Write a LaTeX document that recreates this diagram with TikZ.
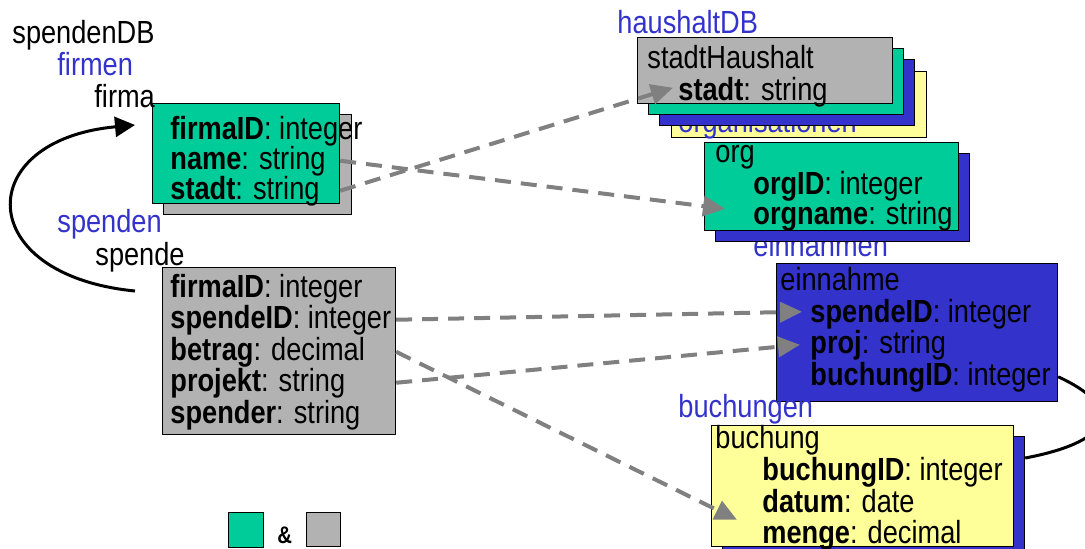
\documentclass[tikz,border=0pt]{standalone}
\usepackage{fontspec}
\setmainfont[FakeStretch=0.85]{Liberation Sans}
\usetikzlibrary{arrows.meta,calc}
\definecolor{tblgreen}{HTML}{00CC99}
\definecolor{tblgray}{HTML}{B2B2B2}
\definecolor{tblblue}{HTML}{3333CC}
\definecolor{tblyellow}{HTML}{FFFF99}
\definecolor{linkgray}{HTML}{808080}

\begin{document}
\begin{tikzpicture}[x=0.5pt,y=-0.5pt,font=\fontsize{16}{16}\selectfont,
  tbl/.style={draw=black,line width=0.6pt,anchor=north west,inner sep=0pt},
  lbl/.style={anchor=base west,inner sep=0pt},
  coll/.style={lbl,text=tblblue},
  link/.style={draw=linkgray,line width=2pt,dash pattern=on 8pt off 5pt,
               -{Triangle[length=11pt,width=10pt,fill=linkgray]}},
  ref/.style={line width=1.5pt,-{Triangle[length=10pt,width=10pt]}}]
\useasboundingbox (0,0) rectangle (1085,548);
\clip (0,0) rectangle (1085,548);
% spendenDB
\node[tbl,fill=tblgray,minimum width=94pt,minimum height=50pt] (firmaShadow) at (163,114) {};
\node[tbl,fill=tblgreen,minimum width=93.5pt,minimum height=50pt] (firmaBox) at (152,103) {};
\node[tbl,fill=tblgray,minimum width=116.5pt,minimum height=83.5pt] (spendeBox) at (162,267) {};
\node[lbl] (spendenDB) at (12,43) {spendenDB};
\node[coll] (firmen) at (57,75) {firmen};
\node[lbl] (firma) at (94,107) {firma};
\node[lbl] (fFirmaID) at (170,139) {\textbf{firmaID}: integer};
\node[lbl] (fName) at (170,169) {\textbf{name}: string};
\node[lbl] (fStadt) at (170,199) {\textbf{stadt}: string};
\node[coll] (spenden) at (57,232) {spenden};
\node[lbl] (spende) at (95,265) {spende};
\node[lbl] (sFirmaID) at (170,297) {\textbf{firmaID}: integer};
\node[lbl] (sSpendeID) at (170,328) {\textbf{spendeID}: integer};
\node[lbl] (sBetrag) at (170,360) {\textbf{betrag}: decimal};
\node[lbl] (sProjekt) at (170,391) {\textbf{projekt}: string};
\node[lbl] (sSpender) at (170,423) {\textbf{spender}: string};
% haushaltDB
\node[tbl,fill=tblyellow,minimum width=127.5pt,minimum height=33pt] (stackYellow) at (671,71) {};
\node[coll] (organisationen) at (678,132) {organisationen};
\node[tbl,fill=tblblue,minimum width=127.5pt,minimum height=33pt] (stackBlue) at (659,59) {};
\node[tbl,fill=tblgreen,minimum width=127.5pt,minimum height=33pt] (stackGreen) at (648,48) {};
\node[tbl,fill=tblgray,minimum width=127.5pt,minimum height=33pt] (stadtBox) at (637,37) {};
\node[coll] (haushaltDB) at (617,33) {haushaltDB};
\node[lbl] (stadtHaushalt) at (647,68) {stadtHaushalt};
\node[lbl] (hStadt) at (678,100) {\textbf{stadt}: string};
\node[coll] (einnahmen) at (753,256) {einnahmen};
\node[tbl,fill=tblblue,minimum width=127pt,minimum height=44pt] (orgShadow) at (715,153) {};
\node[tbl,fill=tblgreen,minimum width=127pt,minimum height=44pt] (orgBox) at (704,142) {};
\node[lbl] (org) at (715,162) {org};
\node[lbl] (oOrgID) at (753,194) {\textbf{orgID}: integer};
\node[lbl] (oOrgname) at (753,224) {\textbf{orgname}: string};
\node[tbl,fill=tblblue,minimum width=140.5pt,minimum height=69pt] (einBox) at (776,263) {};
\node[lbl] (einnahme) at (780,290) {einnahme};
\node[lbl] (eSpendeID) at (810,322) {\textbf{spendeID}: integer};
\node[lbl] (eProj) at (810,353) {\textbf{proj}: string};
\node[lbl] (eBuchungID) at (810,385) {\textbf{buchungID}: integer};
\node[tbl,fill=tblblue,minimum width=151pt,minimum height=60.5pt] (buchShadow) at (722,436) {};
\node[tbl,fill=tblyellow,minimum width=151pt,minimum height=60.5pt] (buchBox) at (711,425) {};
\node[coll] (buchungen) at (678,417) {buchungen};
\node[lbl] (buchung) at (715,448) {buchung};
\node[lbl] (bBuchungID) at (762,480) {\textbf{buchungID}: integer};
\node[lbl] (bDatum) at (762,512) {\textbf{datum}: date};
\node[lbl] (bMenge) at (762,543) {\textbf{menge}: decimal};
% legend
\node[tbl,fill=tblgreen,minimum size=17.5pt] (legGreen) at (228,512) {};
\node[lbl,font=\fontsize{12}{12}\selectfont\bfseries] (legAnd) at (277,543) {\&};
\node[tbl,fill=tblgray,minimum size=17pt] (legGray) at (306,512) {};
% references
\draw[ref] ($(spendeBox.north west)+(-27,24)$)
  .. controls (-28,275) and (-28,140) .. ($(firmaBox.north west)+(-17,22)$);
\draw[line width=1.5pt] (eBuchungID -| einBox.east)
  .. controls (1120,405) and (1120,440) .. ($(buchShadow.north east)+(0,22)$);
\draw[link] (fName -| firmaBox.east) -- ($(oOrgname.west)+(-28,-7)$);
\draw[link] (fStadt -| firmaBox.east) -- ($(hStadt.west)+(-5,-4)$);
\draw[link] (sSpendeID -| spendeBox.east) -- ($(eSpendeID.west)+(-8,-2)$);
\draw[link] (sProjekt -| spendeBox.east) -- ($(eProj.west)+(-10,0)$);
\draw[link] (sBetrag -| spendeBox.east) -- ($(bMenge.west)+(-25,-15)$);
\end{tikzpicture}
\end{document}
